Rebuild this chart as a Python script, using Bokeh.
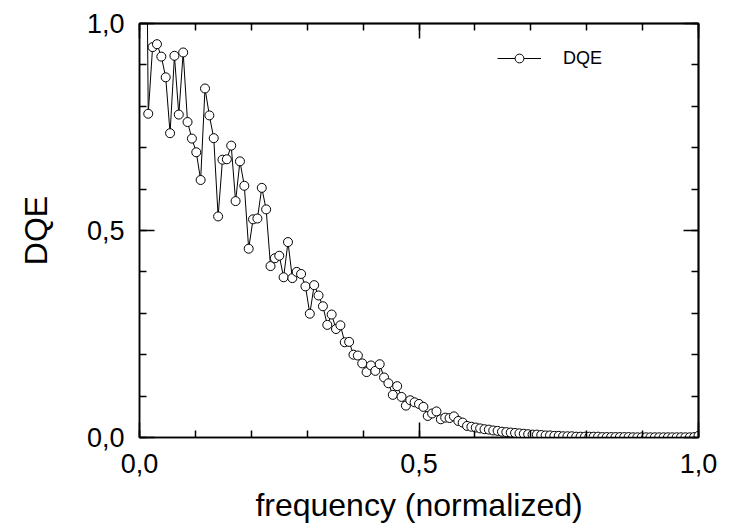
from bokeh.plotting import figure
from bokeh.models import FixedTicker, LinearAxis, Legend, LegendItem, Range1d
from bokeh.embed import file_html
from bokeh.resources import INLINE

# ---- data ----
n_bins = 128
bin_index = list(range(1, 129))
dqe = [
    2.0, 0.782, 0.943, 0.950, 0.920, 0.870, 0.735, 0.922, 0.780, 0.930,
    0.762, 0.722, 0.689, 0.622, 0.843, 0.778, 0.723, 0.534, 0.671, 0.672,
    0.705, 0.571, 0.667, 0.608, 0.456, 0.527, 0.529, 0.603, 0.551, 0.414,
    0.433, 0.439, 0.387, 0.472, 0.385, 0.400, 0.395, 0.365, 0.299, 0.368,
    0.343, 0.317, 0.272, 0.297, 0.262, 0.271, 0.230, 0.231, 0.200, 0.198,
    0.179, 0.158, 0.174, 0.161, 0.177, 0.145, 0.131, 0.103, 0.124, 0.098,
    0.077, 0.090, 0.085, 0.081, 0.074, 0.052, 0.058, 0.063, 0.044, 0.048,
    0.047, 0.051, 0.040, 0.036, 0.028, 0.026, 0.024, 0.022, 0.020, 0.019,
    0.017, 0.016, 0.014, 0.013, 0.012, 0.011, 0.010, 0.009, 0.008, 0.007,
    0.007, 0.006, 0.005, 0.005, 0.004, 0.004, 0.003, 0.003, 0.003, 0.002,
    0.002, 0.002, 0.002, 0.002, 0.002, 0.001, 0.001, 0.001, 0.001, 0.001,
    0.001, 0.001, 0.0005, 0.0005, 0.0005, 0.0005, 0.0005, 0.0005, 0.0005, 0.0005,
    0.0005, 0.0005, 0.0005, 0.0005, 0.0005, 0.0005, 0.001, 0.004,
]
freq = [i / n_bins for i in bin_index]

x_tick_values = [0.0, 0.5, 1.0]
x_tick_labels = ["0,0", "0,5", "1,0"]
y_tick_values = [0.0, 0.5, 1.0]
y_tick_labels = ["0,0", "0,5", "1,0"]
minor_values = [0.0, 0.1, 0.2, 0.3, 0.4, 0.5, 0.6, 0.7, 0.8, 0.9, 1.0]
series_name = "DQE"
x_title = "frequency (normalized)"
y_title = "DQE"

FONT = "Liberation Sans"

p = figure(
    width=730, height=525,
    x_range=Range1d(0, 1), y_range=Range1d(0, 1),
    output_backend="svg", toolbar_location=None,
    x_axis_location=None, y_axis_location=None,
    min_border_left=139, min_border_right=32,
    min_border_top=23, min_border_bottom=88,
)
p.grid.visible = False
p.outline_line_color = "black"
p.outline_line_width = 1.5
p.background_fill_color = "white"
p.border_fill_color = "white"


def style_axis(ax):
    ax.axis_line_color = "black"
    ax.axis_line_width = 1.5
    ax.major_tick_line_width = 1.5
    ax.minor_tick_line_width = 1.5
    ax.major_tick_in = 15
    ax.major_tick_out = 0
    ax.minor_tick_in = 7
    ax.minor_tick_out = 0
    ax.major_label_text_font = FONT
    ax.axis_label_text_font = FONT
    ax.axis_label_text_font_style = "normal"
    ax.major_label_text_color = "black"
    ax.axis_label_text_color = "black"
    ax.major_label_text_font_size = "27px"
    ax.axis_label_text_font_size = "32px"
    return ax


def labelled_axis(values, labels, title):
    ax = LinearAxis(ticker=FixedTicker(ticks=values, minor_ticks=minor_values))
    ax.major_label_overrides = {v: l for v, l in zip(values, labels)}
    ax.axis_label = title
    return style_axis(ax)


def mirror_axes(values, side):
    # ticks only (no labels): minor ticks everywhere, long ticks at major values
    short = style_axis(LinearAxis(ticker=FixedTicker(ticks=[], minor_ticks=minor_values)))
    long_ = style_axis(LinearAxis(ticker=FixedTicker(ticks=[], minor_ticks=values)))
    long_.minor_tick_in = 15
    p.add_layout(short, side)
    p.add_layout(long_, side)


xb = labelled_axis(x_tick_values, x_tick_labels, x_title)
xb.major_label_standoff = 16
xb.axis_label_standoff = 11
p.add_layout(xb, "below")

yl = labelled_axis(y_tick_values, y_tick_labels, y_title)
yl.major_label_standoff = 15
yl.axis_label_standoff = 30
p.add_layout(yl, "left")

mirror_axes(x_tick_values, "above")
mirror_axes(y_tick_values, "right")

line_r = p.line(freq, dqe, line_color="black", line_width=1)
pts_r = p.scatter(freq, dqe, marker="circle", size=9, fill_color="white",
                  line_color="black", line_width=1)

legend = Legend(
    items=[LegendItem(label=series_name, renderers=[line_r, pts_r])],
    location=(358, 368),
    glyph_width=44, glyph_height=22, label_standoff=22,
    label_text_font=FONT, label_text_font_size="18px",
    label_text_color="black",
    padding=0, margin=0, spacing=0,
    border_line_alpha=0, background_fill_alpha=0,
)
p.add_layout(legend)

open("out.html", "w").write(file_html(p, INLINE))
